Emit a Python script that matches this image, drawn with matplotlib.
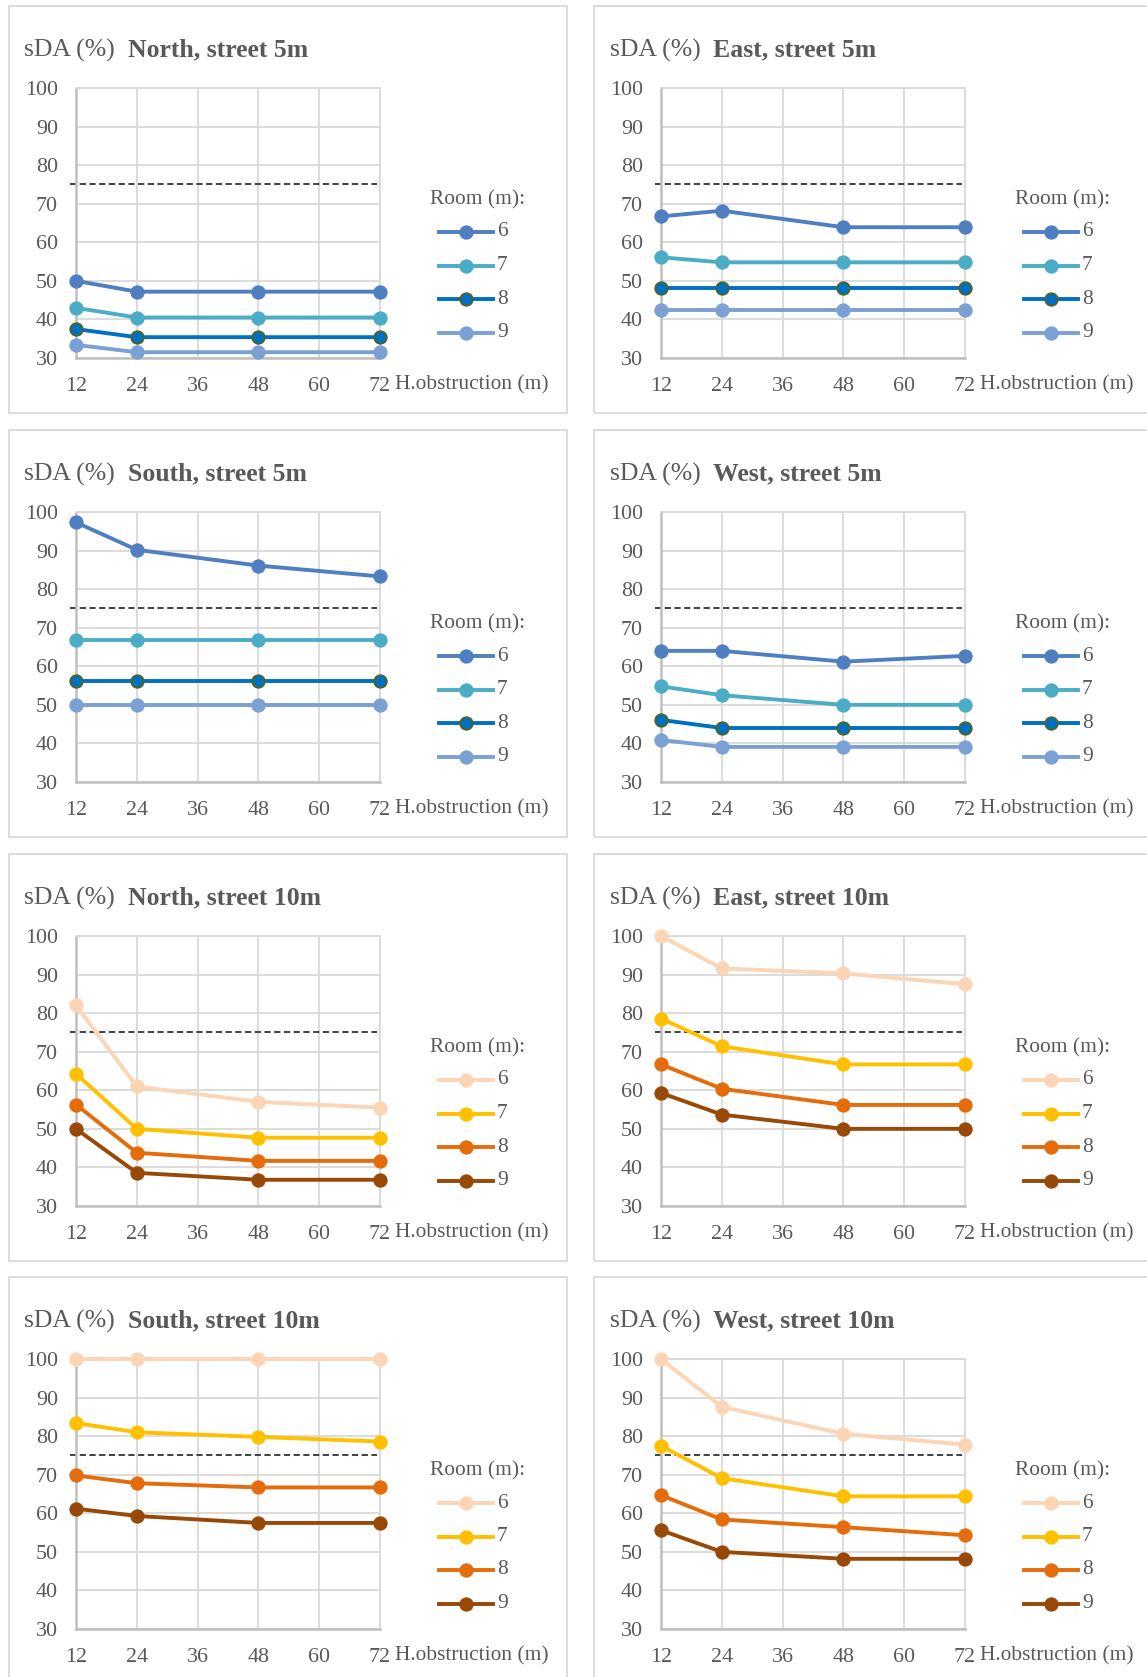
import matplotlib
matplotlib.use("Agg")
import matplotlib.pyplot as plt
from matplotlib.lines import Line2D
from matplotlib.patches import Rectangle

plt.rcParams['font.family'] = ['Liberation Serif', 'DejaVu Serif']

# ---- data -------------------------------------------------------------
h_obstruction = [12, 24, 48, 72]
x_ticks = [12, 24, 36, 48, 60, 72]
y_ticks = [30, 40, 50, 60, 70, 80, 90, 100]
room_sizes = ['6', '7', '8', '9']
threshold = 75

# rows: room 6, 7, 8, 9
north_5m = [[50.0, 47.2, 47.2, 47.2],
            [43.0, 40.5, 40.5, 40.5],
            [37.5, 35.4, 35.4, 35.4],
            [33.4, 31.5, 31.5, 31.5]]
east_5m = [[66.7, 68.2, 63.9, 63.9],
           [56.1, 54.8, 54.8, 54.8],
           [48.1, 48.1, 48.1, 48.1],
           [42.5, 42.5, 42.5, 42.5]]
south_5m = [[97.3, 90.2, 86.1, 83.3],
            [66.7, 66.7, 66.7, 66.7],
            [56.3, 56.3, 56.3, 56.3],
            [50.0, 50.0, 50.0, 50.0]]
west_5m = [[64.0, 64.0, 61.2, 62.7],
           [54.8, 52.5, 50.0, 50.0],
           [46.1, 44.0, 44.0, 44.0],
           [40.9, 39.1, 39.1, 39.1]]
north_10m = [[82.0, 61.0, 57.0, 55.5],
             [64.3, 50.0, 47.7, 47.7],
             [56.3, 43.8, 41.7, 41.7],
             [50.0, 38.6, 36.8, 36.8]]
east_10m = [[100.0, 91.6, 90.3, 87.5],
            [78.6, 71.4, 66.7, 66.7],
            [66.7, 60.4, 56.2, 56.2],
            [59.3, 53.7, 50.0, 50.0]]
south_10m = [[100.0, 100.0, 100.0, 100.0],
             [83.4, 81.0, 79.8, 78.6],
             [69.8, 67.8, 66.7, 66.7],
             [61.2, 59.3, 57.5, 57.5]]
west_10m = [[100.0, 87.6, 80.6, 77.8],
            [77.5, 69.1, 64.4, 64.4],
            [64.7, 58.4, 56.4, 54.3],
            [55.6, 50.0, 48.2, 48.2]]

titles = ['North, street 5m', 'East, street 5m',
          'South, street 5m', 'West, street 5m',
          'North, street 10m', 'East, street 10m',
          'South, street 10m', 'West, street 10m']
panels = [north_5m, east_5m, south_5m, west_5m,
          north_10m, east_10m, south_10m, west_10m]

# ---- styles -----------------------------------------------------------
blues = ['#4f7fc0', '#4bacc6', '#0070c0', '#7aa0d4']
blue_edges = ['#4f7fc0', '#4bacc6', '#4f6228', '#7aa0d4']
oranges = ['#fbd5b5', '#ffc000', '#e46c0a', '#984807']
TXT = '#595959'
GRID = '#d9d9d9'
LW, MS = 2.8, 9

W, H = 1147, 1677
fig = plt.figure(figsize=(W / 100, H / 100), dpi=100)
fig.patch.set_facecolor('white')


def fx(x):
    return x / W


def fy(y):
    return 1 - y / H


col_off = [0, 585]
row_off = [0, 424, 848, 1271]

for idx, (data, title) in enumerate(zip(panels, titles)):
    r, c = divmod(idx, 2)
    ox, oy = col_off[c], row_off[r]
    colors = blues if r < 2 else oranges
    edges = blue_edges if r < 2 else oranges

    # panel frame
    fig.add_artist(Rectangle((fx(9 + ox), fy(413 + oy)),
                             (567 - 9) / W, (413 - 6) / H,
                             transform=fig.transFigure, fill=False,
                             edgecolor=GRID, lw=1.3))

    # title
    fig.text(fx(24.5 + ox), fy(50 + oy), 'sDA (%)', fontsize=18.5,
             color=TXT, va='center', ha='left')
    fig.text(fx(128 + ox), fy(50 + oy), title, fontsize=18.5,
             color=TXT, va='center', ha='left', fontweight='bold')

    ax = fig.add_axes([fx(76 + ox), fy(358 + oy), (380 - 76) / W,
                       (358 - 88) / H])
    ax.set_xlim(12, 72)
    ax.set_ylim(30, 100)
    ax.set_xticks(x_ticks)
    ax.set_yticks(y_ticks)
    ax.grid(True, color=GRID, lw=1.3)
    ax.set_axisbelow(True)
    for s in ['top', 'right']:
        ax.spines[s].set_color(GRID)
        ax.spines[s].set_linewidth(1.3)
    for s in ['left', 'bottom']:
        ax.spines[s].set_color('#bfbfbf')
        ax.spines[s].set_linewidth(1.8)
    ax.tick_params(length=0, labelsize=15.8, labelcolor=TXT)
    ax.tick_params(axis='y', pad=13)
    ax.tick_params(axis='x', pad=14)

    # threshold line
    ax.plot([10.8, 71.5], [threshold, threshold], ls=(0, (3.2, 1.8)),
            color='#404040', lw=1.4, clip_on=False, zorder=2)

    for i, vals in enumerate(data):
        ax.plot(h_obstruction, vals, color=colors[i], lw=LW,
                marker='o', ms=MS, mfc=colors[i], mec=edges[i],
                mew=1.3, clip_on=False, zorder=3 + i * 0.1)

    # x-axis caption
    fig.text(fx(395 + ox), fy(385 + oy), 'H.obstruction (m)', fontsize=15.4,
             color=TXT, va='center', ha='left')

    # legend
    fig.text(fx(430 + ox), fy(200 + oy), 'Room (m):', fontsize=15.4,
             color=TXT, va='center', ha='left')
    for i, lab in enumerate(room_sizes):
        yy = 232 + i * 33.5 + oy
        fig.add_artist(Line2D([fx(439 + ox), fx(466 + ox), fx(493 + ox)],
                              [fy(yy)] * 3, transform=fig.transFigure,
                              color=colors[i], lw=LW, marker='o',
                              markevery=[1], ms=MS, mfc=colors[i],
                              mec=edges[i], mew=1.3))
        fig.text(fx(497 + ox), fy(yy), lab, fontsize=15.4, color=TXT,
                 va='center', ha='left')

fig.savefig('out.png', dpi=100, facecolor='white')
